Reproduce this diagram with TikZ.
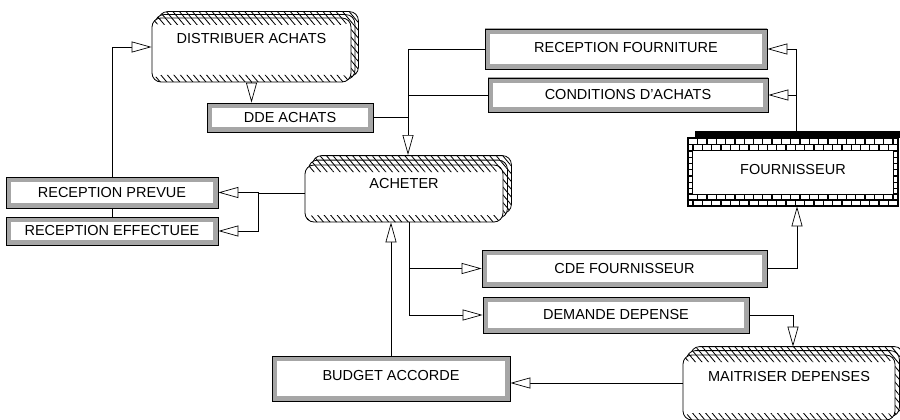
\documentclass[tikz,border=0pt]{standalone}
\usepackage{fontspec}
\setmainfont{Liberation Sans}
\usetikzlibrary{arrows.meta,patterns.meta,calc,backgrounds}

\tikzset{
  every node/.style={font=\fontsize{14.5}{17}\selectfont},
  flowbox/.style={draw=black, line width=0.8pt, fill=white, inner sep=0pt,
    path picture={\draw[gray!70, line width=9.5pt]
      (path picture bounding box.south west) rectangle (path picture bounding box.north east);}},
  hatchfill/.style={pattern={Lines[angle=-50,distance=5pt,line width=0.85pt]}},
  procbox/.style={draw=black, line width=0.8pt, fill=white, rounded corners=9pt, inner sep=0pt,
    path picture={
      \fill[hatchfill] (path picture bounding box.north west) rectangle ([yshift=-7pt]path picture bounding box.north east);
      \fill[hatchfill] (path picture bounding box.south west) rectangle ([yshift=7pt]path picture bounding box.south east);}},
  backbox/.style={draw=black, line width=0.8pt, rounded corners=9pt, preaction={fill=white}, hatchfill},
  arr/.style={-{Triangle[length=20pt,width=11pt,fill=white]}, line width=0.7pt},
  conn/.style={line width=0.7pt},
  brickrow/.style={white, line width=#1, dash pattern=on 8pt off 1.3pt},
}
\newcommand\backlayers[3]{%
  \path[backbox] ([shift={(#2,#3)}]#1.south west) rectangle ([shift={(#2,#3)}]#1.north east);
  \path[backbox] ([shift={(#2/2,#3/2)}]#1.south west) rectangle ([shift={(#2/2,#3/2)}]#1.north east);
}

\begin{document}
\begin{tikzpicture}[x=1pt,y=-1pt]
\useasboundingbox (0,0) rectangle (900,420);

% process boxes
\node[procbox, minimum width=199pt, text height=25.3pt, text depth=38.7pt] (dist) at (251.5,50) {DISTRIBUER ACHATS};
\node[procbox, minimum width=198pt, text height=23.2pt, text depth=33.8pt] (ach) at (404,193.5) {ACHETER};
\node[procbox, minimum width=212pt, text height=26.2pt, text depth=38.8pt] (mai) at (789,387.5) {MAITRISER DEPENSES};
\begin{pgfonlayer}{background}
  \backlayers{dist}{7pt}{6pt}
  \backlayers{ach}{8pt}{9pt}
  \backlayers{mai}{8pt}{8pt}
\end{pgfonlayer}

% flow boxes
\node[flowbox, minimum width=166pt, minimum height=29pt] (dde) at (290,117.5) {DDE ACHATS};
\node[flowbox, minimum width=282pt, minimum height=40pt, text depth=4pt] (rf) at (626,49) {RECEPTION FOURNITURE};
\node[flowbox, minimum width=280pt, minimum height=34pt] (ca) at (628,95) {CONDITIONS D'ACHATS};
\node[flowbox, minimum width=212pt, minimum height=31pt] (rp) at (112,192.5) {RECEPTION PREVUE};
\node[flowbox, minimum width=212pt, minimum height=28pt] (re) at (112,231) {RECEPTION EFFECTUEE};
\node[flowbox, minimum width=285pt, minimum height=37pt] (cde) at (624.5,268.5) {CDE FOURNISSEUR};
\node[flowbox, minimum width=266pt, minimum height=36pt, text depth=2pt] (dem) at (616,315) {DEMANDE DEPENSE};
\node[flowbox, minimum width=238pt, minimum height=45pt, text depth=6pt] (ba) at (391,378.5) {BUDGET ACCORDE};

% external entity
\fill[black] (695,131) rectangle (902,138);
\node[draw=black, line width=0.8pt, fill=white, inner sep=0pt, minimum width=210pt, minimum height=68pt, text depth=6pt] (four) at (793,172) {FOURNISSEUR};
\fill[black] (688,138) rectangle (898,151);
\draw[brickrow=4.8pt] (689,141.4) -- (897,141.4);
\draw[brickrow=4.8pt, dash phase=4.6pt] (689,147.4) -- (897,147.4);
\fill[black] (688,194) rectangle (898,206);
\draw[brickrow=4.4pt] (689,197.2) -- (897,197.2);
\draw[brickrow=4.4pt, dash phase=4.6pt] (689,202.8) -- (897,202.8);
\fill[black] (688,151) rectangle (693,194);
\fill[black] (893,151) rectangle (898,194);
\draw[white, line width=3pt, dash pattern=on 5pt off 1.2pt] (690.5,151.8) -- (690.5,193.2);
\draw[white, line width=3pt, dash pattern=on 5pt off 1.2pt] (895.5,151.8) -- (895.5,193.2);
\draw[line width=0.8pt] (four.north west) rectangle (four.south east);

% connection points
\coordinate (achin) at (408,155);
\coordinate (distin) at ([yshift=3pt]dist.west);
\coordinate (jL) at ($(ach.west)+(-46,0)$);
\coordinate (achout) at ($(ach.south)+(5,0)$);
\coordinate (fourtop) at ($(four.north)+(3,-7)$);
\coordinate (fourbot) at ($(four.south)+(4,0)$);
\coordinate (maitop) at ($(mai.north)+(4,-8)$);
\coordinate (baIn) at ([yshift=-4.5pt]ba.east);

% connectors
\draw[arr] (dist.south) -- (dist.south |- dde.north);
\draw[arr] (rf.west) -| (achin);
\draw[conn] (ca.west) -- (ca.west -| achin);
\draw[conn] (dde.east) -- (dde.east -| achin);
\draw[arr] (fourtop) |- (rf.east);
\draw[arr] (fourtop |- ca.east) -- (ca.east);
\draw[conn] (ach.west) -- (jL);
\draw[arr] (jL) |- (rp.east);
\draw[arr] (jL) |- (re.east);
\draw[conn] (re.north) -- (rp.south);
\draw[arr] (rp.north) |- (distin);
\draw[arr] (ba.north) -- (ba.north |- ach.south);
\draw[arr] (achout) |- (cde.west);
\draw[arr] (achout) |- (dem.west);
\draw[arr] (cde.east) -| (fourbot);
\draw[arr] (dem.east) -| (maitop);
\draw[arr] (mai.west |- baIn) -- (baIn);
\end{tikzpicture}
\end{document}
